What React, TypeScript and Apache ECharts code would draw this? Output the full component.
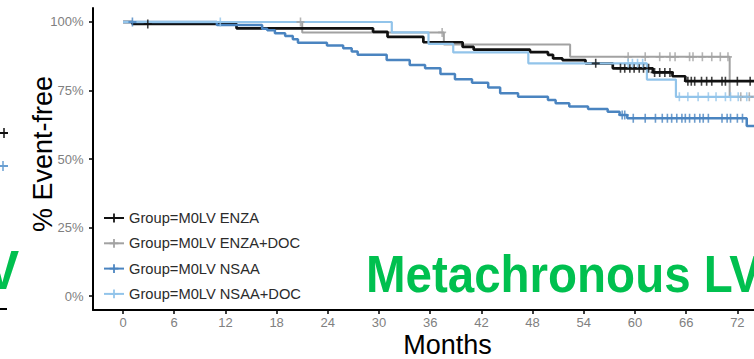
import React, { useEffect, useRef } from "react";
import * as echarts from "echarts";

// ---------- data ----------
const X_TICKS = [0, 6, 12, 18, 24, 30, 36, 42, 48, 54, 60, 66, 72];
const Y_TICKS = [0, 25, 50, 75, 100];
const END_MONTH = 74;

const GROUPS = [
  "Group=M0LV ENZA",
  "Group=M0LV ENZA+DOC",
  "Group=M0LV NSAA",
  "Group=M0LV NSAA+DOC",
];

// Kaplan-Meier steps: event months and survival (%) after each event
const ENZA_T = [0, 1.1, 13.3, 29.3, 31.0, 35.2, 39.8, 41.1, 47.7, 49.8, 50.4, 51.5, 54.2, 57.4, 62.1, 64.4, 65.9];
const ENZA_S = [100, 99.3, 97.7, 96.4, 94.6, 92.6, 90.9, 89.9, 89.0, 88.0, 86.7, 86.1, 84.9, 83.1, 81.6, 80.2, 78.4];
const ENZA_CENSOR = [2.9, 55.4, 58.3, 58.8, 59.4, 59.9, 60.5, 61.0, 61.6, 62.3, 62.9, 63.5, 64.1, 66.2, 66.6, 67.0, 67.8, 68.4, 69.0, 70.2, 70.6, 72.0, 73.5];

const ENZADOC_T = [0, 21.0, 37.6, 52.4, 71.1];
const ENZADOC_S = [100, 96.2, 91.8, 87.3, 72.7];
const ENZADOC_CENSOR = [20.8, 37.4, 59.2, 61.2, 62.9, 64.1, 64.7, 66.4, 66.8, 67.9, 69.0, 70.0, 70.9, 72.4, 73.4];

const NSAA_T = [0, 11.0, 16.3, 16.9, 17.8, 19.0, 19.9, 20.5, 23.9, 25.8, 26.8, 27.5, 30.9, 33.6, 35.4, 37.2, 38.9, 40.9, 42.8, 44.2, 46.3, 49.8, 50.7, 52.3, 54.5, 56.8, 58.2, 59.1, 73.1];
const NSAA_S = [100, 98.9, 97.5, 97.0, 95.9, 94.9, 93.7, 92.4, 91.4, 90.4, 89.2, 88.0, 86.1, 84.3, 83.1, 81.0, 79.1, 77.8, 76.1, 74.0, 72.7, 71.5, 70.3, 69.2, 68.2, 67.2, 66.1, 64.9, 62.0];
const NSAA_CENSOR = [1.1, 58.5, 58.8, 59.8, 61.2, 62.4, 63.2, 63.8, 64.3, 64.9, 65.5, 65.9, 66.4, 67.0, 67.6, 68.0, 68.6, 70.2, 70.8, 71.2, 72.0, 72.6];

const NSAADOC_T = [0, 31.5, 35.8, 38.7, 47.5, 61.4, 64.8];
const NSAADOC_S = [100, 96.2, 92.0, 88.9, 84.9, 79.0, 72.7];
const NSAADOC_CENSOR = [11.4, 59.2, 59.7, 60.3, 60.9, 65.2, 66.2, 67.4, 68.6, 69.5, 70.6, 71.2, 72.1, 73.1];

// ---------- helpers ----------
const FONT = "Liberation Sans, Arial, sans-serif";
const PLUS = "path://M-0.2,-1H0.2V-0.2H1V0.2H0.2V1H-0.2V0.2H-1V-0.2H-0.2Z";

function stepData(T: number[], S: number[]) {
  const d = T.map((t, i) => [t, S[i]]);
  d.push([END_MONTH, S[S.length - 1]]);
  return d;
}
function survAt(T: number[], S: number[], t: number) {
  let v = S[0];
  for (let i = 0; i < T.length; i++) if (T[i] <= t) v = S[i];
  return v;
}
function censorData(T: number[], S: number[], C: number[]) {
  return C.map((t) => [t, survAt(T, S, t)]);
}

const GROUP_DEF = [
  { name: GROUPS[1], T: ENZADOC_T, S: ENZADOC_S, C: ENZADOC_CENSOR, color: "#a2a2a2", width: 2, z: 2 },
  { name: GROUPS[0], T: ENZA_T, S: ENZA_S, C: ENZA_CENSOR, color: "#111111", width: 2.7, z: 3 },
  { name: GROUPS[2], T: NSAA_T, S: NSAA_S, C: NSAA_CENSOR, color: "#4a84c0", width: 2.5, z: 4 },
  { name: GROUPS[3], T: NSAADOC_T, S: NSAADOC_S, C: NSAADOC_CENSOR, color: "#92c4ea", width: 2.2, z: 5 },
];

export default function App() {
  const ref = useRef<HTMLDivElement>(null);
  useEffect(() => {
    const chart = echarts.init(ref.current!, null, { renderer: "svg" });
    const series: any[] = [];
    GROUP_DEF.forEach((g) => {
      series.push({
        type: "line",
        name: g.name,
        step: "end",
        data: stepData(g.T, g.S),
        symbol: PLUS,
        showSymbol: false,
        color: g.color,
        itemStyle: { color: g.color, borderWidth: 0 },
        lineStyle: { color: g.color, width: g.width },
        z: g.z,
        silent: true,
      });
    });
    GROUP_DEF.forEach((g) => {
      series.push({
        type: "scatter",
        name: g.name + " censored",
        data: censorData(g.T, g.S, g.C),
        symbol: PLUS,
        symbolSize: [8, 9],
        itemStyle: { color: g.color },
        z: g.z + 4,
        silent: true,
      });
    });

    const option: any = {
      animation: false,
      backgroundColor: "#ffffff",
      grid: { left: 93, right: 0, top: 8, bottom: 49, containLabel: false },
      xAxis: {
        type: "value",
        min: -3.52,
        max: 73.95,
        axisLine: { show: true, onZero: false, lineStyle: { color: "#000", width: 2 } },
        axisTick: { show: true, customValues: X_TICKS, length: 4, lineStyle: { color: "#000", width: 1.5 } },
        axisLabel: { customValues: X_TICKS, color: "#808080", fontSize: 13, margin: 6, fontFamily: FONT },
        splitLine: { show: false },
      },
      yAxis: {
        type: "value",
        min: -5.1,
        max: 105.1,
        axisLine: { show: true, onZero: false, lineStyle: { color: "#000", width: 2 } },
        axisTick: { show: true, customValues: Y_TICKS, length: 4, lineStyle: { color: "#000", width: 1.5 } },
        axisLabel: {
          customValues: Y_TICKS,
          color: "#808080",
          fontSize: 13,
          margin: 9.5,
          fontFamily: FONT,
          formatter: (v: number) => v + "%",
        },
        splitLine: { show: false },
      },
      legend: {
        data: GROUPS,
        orient: "vertical",
        left: 103,
        top: 210,
        itemWidth: 20,
        itemHeight: 11,
        itemGap: 9.3,
        padding: 0,
        selectedMode: false,
        textStyle: { fontSize: 14.7, color: "#2b2b2b", lineHeight: 16, fontFamily: FONT },
      },
      graphic: [
        {
          type: "text",
          x: 42.6,
          y: 154,
          rotation: Math.PI / 2,
          style: { text: "% Event-free", fontSize: 27, fill: "#000", align: "center", verticalAlign: "middle", fontFamily: FONT },
        },
        {
          type: "text",
          x: 447.5,
          y: 345,
          style: { text: "Months", fontSize: 27, fill: "#000", align: "center", verticalAlign: "middle", fontFamily: FONT },
        },
        {
          type: "text",
          x: 366,
          y: 274,
          scaleY: 1.1,
          style: { text: "Metachronous LV", fontSize: 47.5, fontWeight: "bold", fill: "#00c04f", align: "left", verticalAlign: "middle", fontFamily: FONT },
        },
        // fragment of the neighbouring panel on the left edge
        {
          type: "text",
          x: 19,
          y: 270,
          scaleY: 1.1,
          style: { text: "V", fontSize: 50, fontWeight: "bold", fill: "#00c04f", align: "right", verticalAlign: "middle", fontFamily: FONT },
        },
        { type: "line", shape: { x1: 0, y1: 309, x2: 7, y2: 309 }, style: { stroke: "#000", lineWidth: 2 } },
        { type: "line", shape: { x1: 0, y1: 133, x2: 8, y2: 133 }, style: { stroke: "#111", lineWidth: 2 } },
        { type: "line", shape: { x1: 4, y1: 128, x2: 4, y2: 138 }, style: { stroke: "#111", lineWidth: 1.5 } },
        { type: "line", shape: { x1: 0, y1: 166, x2: 8, y2: 166 }, style: { stroke: "#6a9fd2", lineWidth: 2 } },
        { type: "line", shape: { x1: 3, y1: 161, x2: 3, y2: 171 }, style: { stroke: "#6a9fd2", lineWidth: 1.5 } },
      ],
      series,
    };
    chart.setOption(option);
    return () => chart.dispose();
  }, []);
  return (
    <div
      ref={ref}
      style={{ position: "fixed", left: 0, top: 0, width: 754, height: 359, background: "#fff" }}
    />
  );
}
